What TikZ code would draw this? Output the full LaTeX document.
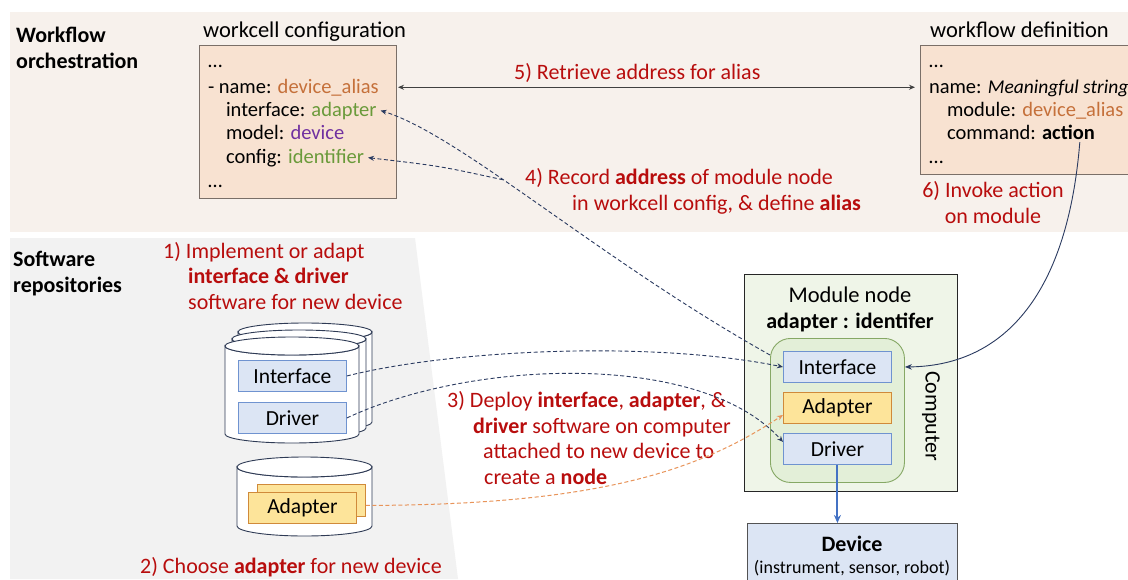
\documentclass[tikz,border=0pt]{standalone}
\usepackage{fontspec}
\setmainfont{Carlito}
\usetikzlibrary{arrows.meta,calc}
\definecolor{bandc}{HTML}{F7F1EC}
\definecolor{greyc}{HTML}{F2F2F2}
\definecolor{peach}{HTML}{F8E2D1}
\definecolor{boxline}{HTML}{7A6F68}
\definecolor{redc}{HTML}{B80D0D}
\definecolor{orangec}{HTML}{C5703A}
\definecolor{greenc}{HTML}{6A9A3A}
\definecolor{purplec}{HTML}{7030A0}
\definecolor{navy}{HTML}{2A3A60}
\definecolor{blfill}{HTML}{DCE5F4}
\definecolor{blline}{HTML}{6F93D0}
\definecolor{yfill}{HTML}{FDE49A}
\definecolor{yline}{HTML}{D08A3A}
\definecolor{modfill}{HTML}{EFF5E8}
\definecolor{compfill}{HTML}{E3EFD8}
\definecolor{compline}{HTML}{86A865}
\definecolor{orarrow}{HTML}{E8945A}
\definecolor{devarrow}{HTML}{4472C4}
\definecolor{cyline}{HTML}{2F3B55}
\definecolor{darkl}{HTML}{404040}
\tikzset{
  cfgbox/.style={draw=boxline, fill=peach, line width=0.9pt, anchor=north west, inner sep=0, outer sep=0},
  cfgtxt/.style={anchor=base west, inner sep=0, outer sep=0, font=\fontsize{20.5}{24}\selectfont},
  title/.style={anchor=base west, inner sep=0, font=\fontsize{22.5}{26}\selectfont},
  heading/.style={anchor=base west, inner sep=0, align=left, font=\bfseries\fontsize{22}{25.5}\selectfont},
  redlbl/.style={anchor=base west, inner sep=0, align=left, text=redc, font=\fontsize{22}{25.5}\selectfont},
  bluebox/.style={draw=blline, fill=blfill, line width=0.9pt, minimum width=108pt, minimum height=31pt, inner sep=0, font=\fontsize{21.5}{24}\selectfont},
  yelbox/.style={draw=yline, fill=yfill, line width=0.9pt, minimum width=108pt, minimum height=31pt, inner sep=0, font=\fontsize{21.5}{24}\selectfont},
  cylstyle/.style={draw=cyline, fill=white, line width=0.9pt},
  navdash/.style={draw=navy, dash pattern=on 4pt off 2.5pt, line width=0.9pt, -{Stealth[length=6pt,width=5pt]}},
  navsolid/.style={draw=navy, line width=0.9pt, -{Stealth[length=7pt,width=5.5pt]}},
  ordash/.style={draw=orarrow, dash pattern=on 4pt off 2.5pt, line width=1pt, -{Stealth[length=6pt,width=5pt]}},
}
\newcommand\mycyl[5]{%
  \pgfmathsetmacro\cylcx{(#1+#2)/2}%
  \pgfmathsetmacro\cylrx{(#2-#1)/2}%
  \filldraw[cylstyle] (#1,#3) -- (#1,#4) arc[start angle=180,end angle=0,x radius=\cylrx,y radius=#5] -- (#2,#3) arc[start angle=0,end angle=180,x radius=\cylrx,y radius=#5] -- cycle;
  \filldraw[cylstyle] (\cylcx,#3) ellipse[x radius=\cylrx,y radius=#5];}
\begin{document}
\begin{tikzpicture}[x=1pt,y=-1pt]
\useasboundingbox (0,0) rectangle (1128,579);
\fill[white] (0,0) rectangle (1128,579);
% panels
\fill[bandc] (10,12) rectangle (1130,232);
\fill[greyc] (10,238) -- (415,238) -- (458,579) -- (10,579) -- cycle;
% multi-line nodes: base anchor = baseline of last line
\node[heading] (hwf) at (16,68) {Workflow\\orchestration};
\node[heading] (hsw) at (13,292) {Software\\repositories};

% workcell configuration
\node[title] (wct) at (203,37) {workcell configuration};
\node[cfgbox, minimum width=197pt, minimum height=153pt] (wc) at (199,45) {};
\node[cfgtxt] (wcl1) at (208,67) {…};
\node[cfgtxt] (wcl2) at (208,93) {- name: \textcolor{orangec}{device\_alias}};
\node[cfgtxt] (wcl3) at (226,116) {interface: \textcolor{greenc}{adapter}};
\node[cfgtxt] (wcl4) at (226,139) {model: \textcolor{purplec}{device}};
\node[cfgtxt] (wcl5) at (226,163) {config: \textcolor{greenc}{identifier}};
\node[cfgtxt] (wcl6) at (208,187) {…};

% workflow definition
\node[title] (wft) at (930,37) {workflow definition};
\node[cfgbox, minimum width=215pt, minimum height=129pt] (wf) at (920,45) {};
\node[cfgtxt] (wfl1) at (929,67) {…};
\node[cfgtxt] (wfl2) at (929,93) {name: {\fontsize{19.5}{24}\selectfont\itshape Meaningful string}};
\node[cfgtxt] (wfl3) at (947,116) {module: \textcolor{orangec}{device\_alias}};
\node[cfgtxt] (wfl4) at (947,139) {command: \textbf{action}};
\node[cfgtxt] (wfl5) at (929,163) {…};

% red labels
\node[redlbl] (l5) at (514,79) {5) Retrieve address for alias};
\node[redlbl] (l4) at (525,210) {4) Record \textbf{address} of module node\\\hspace*{47pt}in workcell config, \& define \textbf{alias}};
\node[redlbl, align=center, anchor=base] (l6) at (993,223) {6) Invoke action\\on module};
\node[redlbl] (l1) at (163,309) {1) Implement or adapt\\\hspace*{25pt}\textbf{interface \& driver}\\\hspace*{25pt}software for new device};
\node[redlbl] (l2) at (140,573) {2) Choose \textbf{adapter} for new device};
\node[redlbl] (l3) at (447,484) {3) Deploy \textbf{interface}, \textbf{adapter}, \&\\\hspace*{26pt}\textbf{driver} software on computer\\\hspace*{36pt}attached to new device to\\\hspace*{37pt}create a \textbf{node}};

% repositories
\mycyl{238}{372}{332}{422}{9}
\mycyl{232}{366}{339}{428}{9}
\mycyl{225}{359}{346}{434}{9}
\node[bluebox, anchor=north west] (ri) at (238,360) {Interface};
\node[bluebox, anchor=north west] (rd) at (238,402) {Driver};
\mycyl{237}{372}{467}{526}{10}
\node[yelbox, minimum height=32pt, anchor=north west] (rab) at (257,484) {};
\node[yelbox, anchor=north west] (ra) at (248,492) {Adapter};

% module node
\node[draw=black!85, fill=modfill, line width=0.9pt, minimum width=213pt, minimum height=217pt, anchor=north west, inner sep=0] (mod) at (744,274) {};
\node[anchor=base, inner sep=0, font=\fontsize{22.5}{26}\selectfont] (modt) at (850,302) {Module node};
\node[anchor=base, inner sep=0, font=\bfseries\fontsize{22}{26}\selectfont] (modid) at (850,328) {adapter : identifer};
\node[draw=compline, fill=compfill, line width=0.9pt, rounded corners=20pt, minimum width=134pt, minimum height=144pt, anchor=north west, inner sep=0] (comp) at (770,338) {};
\node[bluebox, anchor=north west] (mi) at (783,351) {Interface};
\node[yelbox, anchor=north west] (ma) at (783,392) {Adapter};
\node[bluebox, anchor=north west] (md) at (783,433) {Driver};
\node[rotate=-90, inner sep=0, font=\fontsize{22}{26}\selectfont] (compl) at (931,416) {Computer};
\node[draw=darkl!90, fill=blfill, line width=0.9pt, minimum width=210pt, minimum height=62pt, anchor=north west, inner sep=0] (dev) at (747,523) {};
\node[anchor=base, inner sep=0, font=\bfseries\fontsize{22}{26}\selectfont] (devt) at (852,551) {Device};
\node[anchor=base, inner sep=0, font=\fontsize{18}{21}\selectfont] (devs) at (852,573) {(instrument, sensor, robot)};

% connectors
\draw[darkl, line width=0.9pt, {Stealth[length=6pt,width=5pt]}-{Stealth[length=6pt,width=5pt]}] ($(wcl2 -| wc.east)+(2,0)$) -- ($(wcl2 -| wf.west)+(-5,0)$);
\draw[navdash] ($(comp.north west)+(0,17)$) .. controls (600,260) and (460,135) .. ($(wcl3.east)+(4,0)$) coordinate[pos=0.6] (jn);
\draw[navdash] (jn) .. controls (440,166) .. ($(wcl5.east)+(4,0)$);
\draw[navdash] (ri.east) .. controls (450,350) and (650,340) .. (mi.west);
\draw[navdash] (rd.east) .. controls (470,360) and (700,350) .. ($(md.west)+(0,-7)$);
\draw[ordash] ($(rab.east)+(0,5)$) .. controls (600,505) and (700,470) .. ($(ma.west)+(0,7)$);
\draw[devarrow, line width=2pt, -{Stealth[length=8pt,width=7pt]}] (md.south) -- (md.south |- dev.north);
\draw[navsolid] ($(wfl4.south east)+(-15,3)$) .. controls (1067,300) and (1000,366) .. (comp.east |- mi);
\end{tikzpicture}
\end{document}
